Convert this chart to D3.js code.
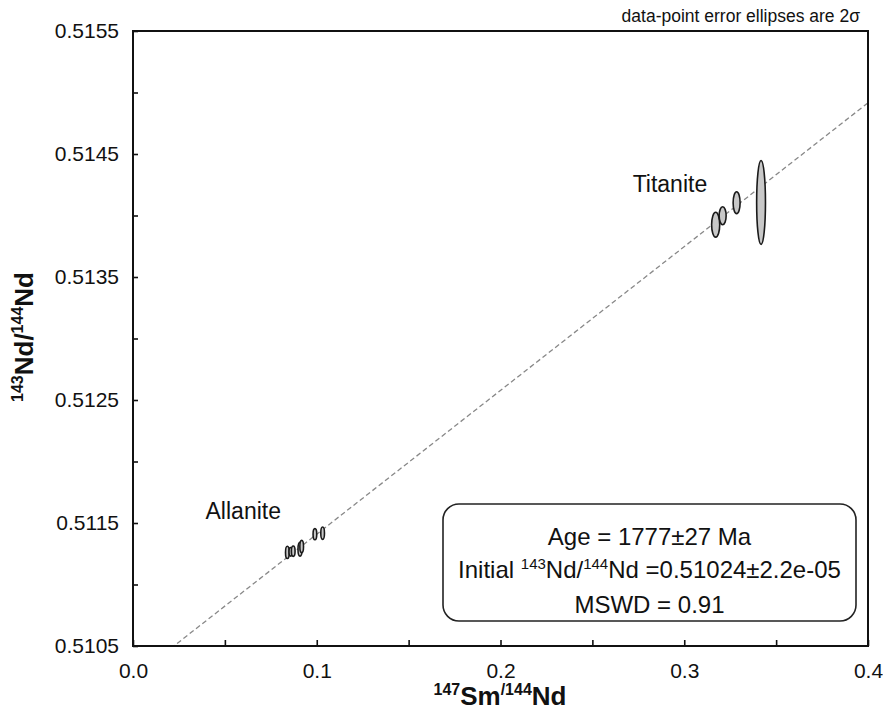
<!DOCTYPE html>
<html>
<head>
<meta charset="utf-8">
<script src="https://cdn.jsdelivr.net/npm/d3@7"></script>
<style>
  body { margin: 0; background: #fff; }
  text { font-family: "Liberation Sans", Arial, sans-serif; fill: #111; }
</style>
</head>
<body>
<svg id="chart"></svg>
<script>
// Sm-Nd isochron data (2 sigma half-axes)
const allaniteX  = [0.0840, 0.0858, 0.0872, 0.0909, 0.0918, 0.0990, 0.1032];
const allaniteY  = [0.511261, 0.511266, 0.511271, 0.511287, 0.511309, 0.511409, 0.511417];
const allaniteSx = [0.0010, 0.0009, 0.0010, 0.0011, 0.0010, 0.0010, 0.0010];
const allaniteSy = [0.000050, 0.000035, 0.000042, 0.000056, 0.000050, 0.000045, 0.000050];

const titaniteX  = [0.3171, 0.3209, 0.3285, 0.3418];
const titaniteY  = [0.513925, 0.513998, 0.514104, 0.514106];
const titaniteSx = [0.0022, 0.0019, 0.0019, 0.0024];
const titaniteSy = [0.000101, 0.000073, 0.000089, 0.000341];

const isoIntercept = 0.51024;
const isoSlope = 0.01169;

const xTicks = [0, 0.05, 0.1, 0.15, 0.2, 0.25, 0.3, 0.35, 0.4];
const xLabels = [0, 0.1, 0.2, 0.3, 0.4];
const yTicks = [0.5105, 0.511, 0.5115, 0.512, 0.5125, 0.513, 0.5135, 0.514, 0.5145, 0.515, 0.5155];
const yLabels = [0.5105, 0.5115, 0.5125, 0.5135, 0.5145, 0.5155];

const width = 883, height = 718;
const margin = { top: 31, right: 15, bottom: 72, left: 133 };
const innerW = width - margin.left - margin.right;
const innerH = height - margin.top - margin.bottom;

const svg = d3.select('#chart').attr('width', width).attr('height', height);
const chart = svg.append('g').attr('transform', `translate(${margin.left}, ${margin.top})`);

const xscale = d3.scaleLinear().domain([0, 0.4]).range([0, innerW]);
const yscale = d3.scaleLinear().domain([0.5105, 0.5155]).range([innerH, 0]);

chart.append('clipPath').attr('id', 'clip')
  .append('rect').attr('width', innerW).attr('height', innerH);

// isochron
chart.append('line')
  .attr('clip-path', 'url(#clip)')
  .attr('x1', xscale(0)).attr('y1', yscale(isoIntercept))
  .attr('x2', xscale(0.4)).attr('y2', yscale(isoIntercept + isoSlope * 0.4))
  .attr('stroke', '#888').attr('stroke-width', 1.3)
  .attr('stroke-dasharray', '5,3');

// ellipses
const points = [];
allaniteX.forEach((x, i) => points.push({ x, y: allaniteY[i], sx: allaniteSx[i], sy: allaniteSy[i] }));
titaniteX.forEach((x, i) => points.push({ x, y: titaniteY[i], sx: titaniteSx[i], sy: titaniteSy[i] }));

chart.selectAll('ellipse')
  .data(points)
  .join('ellipse')
  .attr('cx', d => xscale(d.x))
  .attr('cy', d => yscale(d.y))
  .attr('rx', d => xscale(d.sx) - xscale(0))
  .attr('ry', d => yscale(0.5105) - yscale(0.5105 + d.sy))
  .attr('fill', '#c8c8c8')
  .attr('stroke', '#1a1a1a')
  .attr('stroke-width', 1.6);

// axes
const xaxis = d3.axisBottom(xscale)
  .tickValues(xTicks)
  .tickFormat(d => xLabels.some(v => Math.abs(v - d) < 1e-9) ? d3.format('.1f')(d) : '')
  .tickSizeInner(-6).tickSizeOuter(0).tickPadding(17);

const yaxis = d3.axisLeft(yscale)
  .tickValues(yTicks)
  .tickFormat(d => yLabels.some(v => Math.abs(v - d) < 1e-9) ? d3.format('.4f')(d) : '')
  .tickSizeInner(-5).tickSizeOuter(0).tickPadding(14);

const xg = chart.append('g').attr('transform', `translate(0, ${innerH})`).call(xaxis);
const yg = chart.append('g').call(yaxis);

[xg, yg].forEach(g => {
  g.select('.domain').remove();
  g.selectAll('.tick line').attr('stroke', '#111').attr('stroke-width', 1.6);
  g.selectAll('.tick text').attr('font-size', 21).attr('font-family', '"Liberation Sans", Arial, sans-serif').attr('fill', '#111');
});

// frame
chart.append('rect')
  .attr('width', innerW).attr('height', innerH)
  .attr('fill', 'none').attr('stroke', '#111').attr('stroke-width', 2);

// labels
chart.append('text').attr('x', xscale(0.2922)).attr('y', yscale(0.514193))
  .attr('font-size', 23).attr('text-anchor', 'middle').text('Titanite');
chart.append('text').attr('x', xscale(0.060)).attr('y', yscale(0.511536))
  .attr('font-size', 23).attr('text-anchor', 'middle').text('Allanite');

svg.append('text').attr('x', 860).attr('y', 22)
  .attr('text-anchor', 'end').attr('font-size', 17.5)
  .text('data-point error ellipses are 2σ');

// x label
const xl = svg.append('text').attr('x', 500).attr('y', 705)
  .attr('text-anchor', 'middle').attr('font-weight', 'bold').attr('font-size', 26);
xl.append('tspan').attr('font-size', 16).attr('dy', -10).text('147');
xl.append('tspan').attr('dy', 10).text('Sm');
xl.append('tspan').attr('font-size', 16).attr('dy', -10).text('/144');
xl.append('tspan').attr('dy', 10).text('Nd');

// y label
const yl = svg.append('text')
  .attr('transform', 'translate(33, 337) rotate(-90)')
  .attr('text-anchor', 'middle').attr('font-weight', 'bold').attr('font-size', 26);
yl.append('tspan').attr('font-size', 16).attr('dy', -10).text('143');
yl.append('tspan').attr('dy', 10).text('Nd/');
yl.append('tspan').attr('font-size', 16).attr('dy', -10).text('144');
yl.append('tspan').attr('dy', 10).text('Nd');

// result box
svg.append('rect')
  .attr('x', 443).attr('y', 504).attr('width', 413).attr('height', 117)
  .attr('rx', 16).attr('ry', 16)
  .attr('fill', '#fff').attr('stroke', '#222').attr('stroke-width', 1.6);

const bx = 649.5;
svg.append('text').attr('x', bx).attr('y', 545).attr('text-anchor', 'middle')
  .attr('font-size', 24).text('Age = 1777±27 Ma');
const l2 = svg.append('text').attr('x', bx).attr('y', 578).attr('text-anchor', 'middle')
  .attr('font-size', 24);
l2.append('tspan').text('Initial ');
l2.append('tspan').attr('font-size', 15).attr('dy', -9).text('143');
l2.append('tspan').attr('dy', 9).text('Nd/');
l2.append('tspan').attr('font-size', 15).attr('dy', -9).text('144');
l2.append('tspan').attr('dy', 9).text('Nd =0.51024±2.2e-05');
svg.append('text').attr('x', bx).attr('y', 613).attr('text-anchor', 'middle')
  .attr('font-size', 24).text('MSWD = 0.91');
</script>
</body>
</html>
